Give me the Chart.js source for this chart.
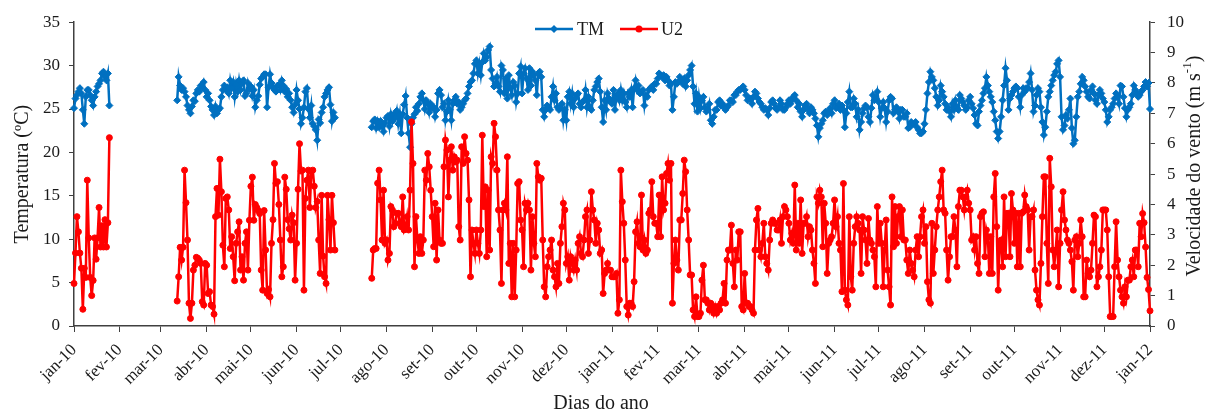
<!DOCTYPE html>
<html>
<head>
<meta charset="utf-8">
<script src="https://cdn.jsdelivr.net/npm/chart.js@4.4.1/dist/chart.umd.min.js"></script>
<style>
html, body { margin: 0; padding: 0; background: #fff; }
#wrap { width: 1209px; height: 415px; }
</style>
</head>
<body>
<div id="wrap"><canvas id="chart" width="1209" height="415"></canvas></div>
<script>
// x axis: one category per day, 1 Jan 2010 (day 0) .. 1 Jan 2012 (day 730)
const totalDays = 731
const monthTicks = ['jan-10','fev-10','mar-10','abr-10','mai-10','jun-10','jul-10','ago-10','set-10','out-10','nov-10','dez-10',
  'jan-11','fev-11','mar-11','abr-11','mai-11','jun-11','jul-11','ago-11','set-11','out-11','nov-11','dez-11','jan-12']
const monthStartDay = [0,31,59,90,120,151,181,212,243,273,304,334,365,396,424,455,485,516,546,577,608,638,669,699,730]

// first day of each block of measurements (gaps in between)
const blockStart = [0, 70, 202]

// TM (ºC)
const tmJan10 = [25.1,26.2,26.6,27.0,27.4,26.8,24.9,23.3,26.4,27.2,27.2,26.6,26.0,25.4,26.4,27.0,27.6,27.9,28.3,29.1,29.3,28.7,28.3,29.1,25.4]
const tmMar10 = [26.0,28.7,27.7,27.2,27.4,27.0,26.4,25.4,24.9,24.5,25.3,26.0,25.9,26.8,27.2,27.0,27.7,27.5,28.1,27.2,
  26.4,26.8,26.0,25.3,24.9,24.3,25.3,24.5,24.9,25.1,26.4,27.2,27.7,27.2,27.5,26.8,28.3,27.4,28.1,26.4,
  27.9,27.0,28.3,27.2,
  28.0,28.3,26.5,26.8,28.0,27.3,27.6,26.5,27.2,25.2,26.0,26.5,27.8,28.5,28.7,29.0,29.0,25.2,27.5,29.0,
  28.0,27.5,27.2,27.0,27.7,27.8,27.2,28.3,27.7,27.0,27.3,26.4,26.8,26.0,25.2,24.6,25.5,27.2,26.0,25.0,
  23.3,24.0,25.2,27.0,27.4,25.0,24.0,25.4,23.3,23.0,22.6,21.4,23.8,23.4,24.6,25.2,26.4,26.8,27.2,27.5,
  25.5,23.6,24.6,24.0]
const tmJul10 = [22.9,23.6,23.8,22.8,23.6,22.9,23.6,23.0,22.4,23.4,24.0,24.2,23.0,24.4,23.6,24.4,24.0,24.8,23.3,24.4,
  22.2,24.4,25.5,26.5,24.0,22.2,20.6,23.3,24.0,24.4,25.2,24.8,25.6,26.4,26.8,26.0,25.0,26.0,25.6,24.6,25.6,
  25.1,25.2,24.1,24.9,26.8,27.2,26.6,25.2,25.6,23.7,24.7,26.0,24.9,23.7,25.6,26.0,26.4,25.6,25.8,24.9,
  25.2,25.6,26.0,26.2,26.8,27.6,28.1,28.3,29.1,30.2,30.6,29.1,30.2,28.9,30.4,31.4,30.6,31.0,31.8,32.2,
  29.5,28.5,27.6,27.9,28.7,27.6,27.0,30.0,29.5,26.8,28.5,26.2,28.9,27.4,26.6,28.1,27.7,25.8,26.8,29.1,
  29.9,26.8,29.1,29.7,28.5,27.2,29.7,27.7,29.3,28.9,28.3,26.6,29.1,29.3,28.7,24.9,24.1,24.9,25.4,25.2,
  24.9,26.4,27.6,26.0,26.8,25.2,24.9,25.2,25.6,23.7,24.9,23.7,26.4,27.0,25.6,26.8,25.2,26.2,26.6,26.8,
  25.6,25.2,25.8,26.0,27.2,25.2,26.4,25.2,24.9,26.0,27.2,27.6,28.1,28.5,27.0,25.2,23.5,26.0,24.9,26.8,
  26.2,25.8,
  25.6,27.2,24.9,26.4,26.8,26.0,27.2,26.0,26.8,25.8,25.2,26.8,26.4,27.2,25.2,27.4,28.3,27.2,27.7,26.8,
  27.0,27.2,25.4,26.6,26.4,27.2,27.4,27.6,27.2,27.9,27.9,28.5,29.1,28.9,28.7,28.9,28.3,28.7,28.3,27.7,
  27.9,24.9,26.4,28.1,27.9,28.1,28.7,28.3,27.9,28.5,27.6,28.3,28.9,29.5,30.0,27.6,25.6,26.8,24.7,26.4,
  25.1,26.0,26.4,25.2,24.7,24.9,25.6,23.7,23.3,24.1,24.9,24.9,25.8,26.0,25.4,25.6,25.2,24.9,25.2,25.4,
  26.0,26.0,25.8,26.6,26.6,27.0,27.2,27.2,27.4,27.6,27.2,26.6,26.0,26.2,26.2,25.6,26.4,27.0,26.8,26.2,
  25.8,25.6,25.2,24.9,25.1,24.9,24.3,25.1,25.8,26.0,25.6,25.1,24.9,25.2,26.0,25.6,24.9,24.9,25.2,25.6,
  26.0,25.6,
  26.0,26.4,26.6,26.0,25.2,25.6,24.7,24.1,24.9,25.4,25.6,24.9,24.5,25.2,24.9,24.5,23.9,23.1,21.8,22.8,
  23.3,23.7,24.5,24.7,24.3,24.7,25.1,24.5,25.6,26.0,25.1,25.2,25.6,24.9,25.4,24.9,22.9,24.5,25.8,27.0,
  25.2,25.2,26.2,25.6,24.1,24.9,22.6,23.5,24.5,25.1,25.4,25.2,24.1,23.5,25.1,26.6,26.0,26.2,27.0,25.8,
  24.1,25.1,25.8,25.1,23.5,24.7,26.0,26.4,26.2,24.5,24.9,25.2,24.7,23.9,24.9,24.9,24.1,24.1,24.5,22.8,
  22.9,23.5,23.3,23.3,23.5,22.9,22.6,22.2,22.2,22.4,23.3,24.9,26.8,28.1,29.3,28.7,28.3,27.4,26.4,25.4,
  26.0,27.7,27.0,26.4,25.6,24.9,25.2,24.7,24.1,25.6,24.9,26.0,25.2,24.9,26.6,26.2,25.8,25.4,24.9,25.2,
  26.0,26.4,
  25.6,25.1,24.3,23.3,23.1,24.7,25.4,26.0,26.8,27.4,28.7,27.7,27.0,26.4,25.8,24.7,23.7,22.4,21.6,22.4,
  24.1,26.0,27.7,29.7,28.3,24.9,26.2,26.6,27.0,27.4,27.6,27.4,26.4,25.2,26.6,27.4,27.0,27.4,27.4,28.1,
  29.1,27.2,24.7,25.4,26.6,27.4,27.0,25.2,23.5,22.0,22.9,24.7,26.4,27.0,27.7,28.3,28.9,29.3,30.2,30.6,
  28.7,24.1,22.6,23.1,24.3,23.9,24.9,26.2,22.8,21.0,21.4,24.1,26.4,27.0,27.9,28.7,28.3,27.6,27.0,26.4,
  26.2,27.2,27.6,26.8,26.0,25.6,26.6,27.2,26.8,26.2,25.8,24.9,23.5,24.1,24.9,25.2,25.6,26.2,26.8,26.4,
  25.6,27.7,27.6,26.4,25.1,24.1,24.9,25.2,25.6,26.6,27.7,27.2,26.8,26.4,26.6,27.0,27.2,27.6,28.1,27.6,
  28.0,25.0]

// U2 (m s-1)
const u2Jan10 = [1.4,2.4,3.6,3.1,2.4,1.9,0.55,1.9,1.6,4.8,2.9,1.6,1.0,1.5,2.9,2.2,2.9,3.9,2.6,3.3,2.6,3.5,2.6,3.4,6.2]
const u2Mar10 = [0.82,1.62,2.59,2.17,2.59,5.13,4.06,2.83,0.75,0.25,0.75,1.84,2.0,2.26,2.23,2.17,2.06,0.8,0.69,2.06,
  2.0,1.07,1.13,0.69,0.64,0.39,3.6,4.53,3.65,5.49,4.42,2.66,1.95,4.2,4.25,3.82,2.55,2.94,2.28,1.49,
  2.72,3.1,3.43,1.84,
  2.28,1.51,2.72,3.1,1.84,3.48,4.6,4.9,3.48,4.0,3.9,3.8,3.7,1.84,1.18,3.8,2.5,1.07,1.2,0.96,
  2.72,3.5,5.35,4.7,4.75,4.0,2.83,1.62,1.95,4.9,4.5,3.5,3.2,2.83,3.65,3.4,1.51,2.72,4.5,6.0,
  5.1,5.13,1.18,4.2,4.8,5.13,3.9,5.1,5.13,4.6,3.9,4.1,2.83,1.73,4.3,2.3,1.62,1.4,4.3,3.5,
  2.5,4.3,3.4,2.5]
const u2Jul10 = [1.57,2.5,2.55,2.55,4.7,5.13,4.15,2.83,4.47,2.72,2.83,2.17,2.39,3.93,3.82,3.27,3.38,3.71,3.71,3.38,
  3.27,4.25,3.16,3.27,3.6,3.16,4.47,6.72,5.35,1.95,3.6,2.83,2.39,2.94,2.39,2.83,5.13,4.8,5.68,5.24,4.47,
  3.6,2.61,4.04,2.17,3.82,2.83,2.72,2.72,5.24,6.12,5.79,4.25,5.46,5.9,5.13,5.57,5.4,5.46,3.27,2.83,
  5.9,5.35,6.23,5.68,5.46,4.15,1.62,3.16,2.72,2.39,3.16,2.72,2.39,3.16,6.28,3.93,4.58,2.28,4.47,2.5,
  5.57,5.35,6.67,6.23,5.13,3.82,3.16,1.4,3.82,4.04,3.82,5.57,2.06,2.72,0.96,2.72,0.96,2.5,4.69,4.75,
  3.49,3.16,1.95,4.04,3.82,4.04,3.82,1.84,3.6,2.72,2.28,5.35,4.91,4.8,4.86,2.83,1.29,0.96,1.95,2.28,
  2.5,2.83,1.84,1.62,1.29,2.06,1.4,2.72,3.27,4.04,3.82,2.06,2.28,1.51,2.28,2.06,1.84,2.17,1.84,2.72,
  2.94,2.39,2.28,2.83,3.6,3.82,2.39,2.83,4.42,3.82,3.49,2.72,3.38,3.16,2.39,2.5,1.07,1.73,1.84,2.06,
  1.84,1.84,
  1.62,1.62,1.62,1.73,0.42,0.86,5.13,4.09,3.38,2.17,0.64,0.36,0.75,0.75,0.64,1.46,3.1,3.43,2.72,2.61,
  4.31,2.5,2.83,2.39,2.5,3.71,3.82,4.75,3.6,3.38,3.38,2.94,4.31,2.94,4.91,3.82,4.04,5.02,5.35,4.8,
  5.35,0.75,2.06,2.83,2.17,1.84,3.49,3.49,4.36,5.46,5.08,3.82,2.83,1.68,1.68,0.53,0.31,0.96,0.31,0.31,
  0.42,1.51,2.0,0.86,0.86,0.75,0.53,0.75,0.64,0.42,0.64,0.42,0.64,0.53,0.75,0.86,1.4,0.75,2.17,2.5,
  2.5,3.32,2.06,1.29,2.5,2.17,3.1,3.1,0.64,0.53,1.73,0.75,0.75,0.64,0.64,0.53,0.42,2.5,3.49,3.87,
  2.5,2.28,2.72,3.38,2.28,2.06,1.84,2.83,3.38,3.49,3.38,3.38,3.16,3.16,3.49,2.72,3.6,3.93,3.82,3.6,
  3.38,2.83,
  3.05,2.72,4.64,2.5,3.38,2.72,4.15,2.39,3.38,3.38,3.6,2.94,3.27,3.16,2.5,2.06,1.4,4.25,4.04,4.47,
  4.25,2.61,4.04,3.38,1.73,2.72,2.83,2.94,3.38,4.15,3.27,3.6,2.72,2.5,1.13,4.69,1.18,0.86,0.69,3.6,
  1.62,1.18,2.72,3.27,3.6,3.38,3.16,1.73,3.6,3.16,2.83,2.06,3.54,2.83,2.72,2.5,2.28,1.29,3.93,2.72,
  3.38,2.72,1.29,2.5,3.49,1.84,1.29,0.69,4.25,2.61,3.93,2.72,3.6,3.93,2.94,3.82,2.83,2.83,2.17,1.73,
  2.5,2.06,1.84,1.62,2.5,2.94,2.28,2.94,3.6,3.82,2.72,3.27,1.46,0.86,0.75,3.38,1.73,2.5,3.27,3.82,
  4.25,4.75,5.13,3.82,3.71,2.5,1.51,2.28,2.94,2.94,3.6,3.16,1.95,3.93,4.47,4.47,4.25,3.82,4.25,4.47,
  4.04,3.82,
  2.83,2.94,2.5,2.94,2.06,1.73,3.6,3.71,3.76,2.28,3.16,2.94,1.73,2.94,1.73,4.25,5.02,3.27,1.18,2.72,
  2.83,1.95,4.25,2.28,3.71,3.71,2.28,4.36,3.82,2.72,3.71,1.95,3.71,1.95,3.71,3.76,4.31,3.93,3.82,2.5,
  3.6,3.6,3.82,1.84,1.18,0.86,0.69,2.06,3.6,4.91,4.91,2.72,1.4,5.52,4.58,2.5,1.95,2.5,3.16,1.29,
  2.72,3.82,4.42,3.49,3.16,2.83,2.72,2.5,2.12,1.18,2.83,2.94,2.28,2.72,3.49,2.94,0.96,0.96,2.17,1.73,
  1.62,1.84,2.72,3.65,3.6,1.29,1.62,1.95,2.5,3.82,3.82,3.82,3.16,1.62,0.31,0.31,0.31,1.95,3.43,2.17,
  1.62,1.18,0.96,0.75,1.29,0.96,1.51,1.51,1.95,2.17,1.62,2.5,2.5,1.95,3.38,2.94,3.7,3.4,2.6,1.6,
  1.2,0.5]

const blue = '#0070C0'
const red = '#FF0000'
const axisColor = '#404040'
const textColor = '#1a1a1a'
const serif = '"Liberation Serif", "Times New Roman", serif'

// put the measured blocks on the daily axis, null = no data
function onDays(blocks) {
    const out = new Array(totalDays).fill(null)
    blocks.forEach((b, k) => {
        b.forEach((v, i) => { out[blockStart[k] + i] = v })
    })
    return out
}

const dayLabels = []
for (let d = 0; d < totalDays; d++) dayLabels.push(d)

const tmData = onDays([tmJan10, tmMar10, tmJul10])
const u2Data = onDays([u2Jan10, u2Mar10, u2Jul10])

// right axis title (reads bottom to top), x title and the legend
const extras = {
    id: 'extras',
    afterDraw(chart) {
        const ctx = chart.ctx
        const area = chart.chartArea

        ctx.save()
        ctx.fillStyle = textColor
        ctx.textBaseline = 'middle'
        ctx.font = '20px ' + serif
        ctx.textAlign = 'center'
        ctx.fillText('Dias do ano', 601, 404)

        ctx.translate(1195, (area.top + area.bottom) / 2 - 8)
        ctx.rotate(-Math.PI / 2)
        const main = 'Velocidade do vento (m s'
        const w1 = ctx.measureText(main).width
        ctx.font = '13px ' + serif
        const w2 = ctx.measureText('-1').width
        ctx.font = '20px ' + serif
        const w3 = ctx.measureText(')').width
        let x = -(w1 + w2 + w3) / 2
        ctx.textAlign = 'left'
        ctx.fillText(main, x, 0)
        x += w1
        ctx.font = '13px ' + serif
        ctx.fillText('-1', x, -7)
        x += w2
        ctx.font = '20px ' + serif
        ctx.fillText(')', x, 0)
        ctx.restore()

        // legend
        const ly = 29
        ctx.save()
        ctx.lineWidth = 2.5
        ctx.strokeStyle = blue
        ctx.beginPath(); ctx.moveTo(535, ly); ctx.lineTo(573, ly); ctx.stroke()
        ctx.fillStyle = blue
        ctx.beginPath()
        ctx.moveTo(554, ly - 4); ctx.lineTo(558, ly); ctx.lineTo(554, ly + 4); ctx.lineTo(550, ly)
        ctx.closePath(); ctx.fill()
        ctx.strokeStyle = red
        ctx.beginPath(); ctx.moveTo(620, ly); ctx.lineTo(658, ly); ctx.stroke()
        ctx.fillStyle = red
        ctx.beginPath(); ctx.arc(639, ly, 3.5, 0, Math.PI * 2); ctx.fill()
        ctx.fillStyle = textColor
        ctx.font = '18px ' + serif
        ctx.textAlign = 'left'
        ctx.textBaseline = 'middle'
        ctx.fillText('TM', 577, ly + 1)
        ctx.fillText('U2', 661, ly + 1)
        ctx.restore()
    }
}

const tickFont = { family: serif, size: 17 }

new Chart(document.getElementById('chart'), {
    type: 'line',
    data: {
        labels: dayLabels,
        datasets: [{
            label: 'TM',
            data: tmData,
            yAxisID: 'y',
            order: 1,
            borderColor: blue,
            backgroundColor: blue,
            borderWidth: 2.5,
            pointStyle: 'rectRot',
            pointRadius: 3.5,
            pointBorderWidth: 1,
            tension: 0
        }, {
            label: 'U2',
            data: u2Data,
            yAxisID: 'y2',
            order: 0,
            borderColor: red,
            backgroundColor: red,
            borderWidth: 2.5,
            pointStyle: 'circle',
            pointRadius: 3,
            pointBorderWidth: 1,
            tension: 0
        }]
    },
    options: {
        responsive: false,
        devicePixelRatio: 1,
        animation: false,
        layout: { padding: { top: 22, left: 0, right: 0, bottom: 0 } },
        plugins: {
            legend: { display: false },
            tooltip: { enabled: false }
        },
        scales: {
            x: {
                type: 'category',
                offset: false,
                grid: { drawOnChartArea: false, drawTicks: true, tickLength: 6, color: axisColor, lineWidth: 1 },
                border: { display: true, color: axisColor, width: 1.5 },
                ticks: {
                    autoSkip: false,
                    minRotation: 45,
                    maxRotation: 45,
                    padding: 8,
                    color: textColor,
                    font: tickFont,
                    callback: (val, i) => {
                        const m = monthStartDay.indexOf(i)
                        return m >= 0 ? monthTicks[m] : null
                    }
                },
                afterFit: s => { s.height = 89 }
            },
            y: {
                position: 'left',
                min: 0,
                max: 35,
                grid: { drawOnChartArea: false, tickLength: 5, color: axisColor },
                border: { color: axisColor, width: 1.5 },
                ticks: { stepSize: 5, padding: 9, color: textColor, font: tickFont },
                title: { display: true, text: 'Temperatura (ºC)', color: textColor, font: { family: serif, size: 20 }, padding: { top: 11, bottom: 0 } },
                afterFit: s => { s.width = 74 }
            },
            y2: {
                position: 'right',
                min: 0,
                max: 10,
                grid: { drawOnChartArea: false, tickLength: 5, color: axisColor },
                border: { color: axisColor, width: 1.5 },
                ticks: { stepSize: 1, padding: 12, color: textColor, font: tickFont },
                afterFit: s => { s.width = 59 }
            }
        }
    },
    plugins: [extras]
})
</script>
</body>
</html>
